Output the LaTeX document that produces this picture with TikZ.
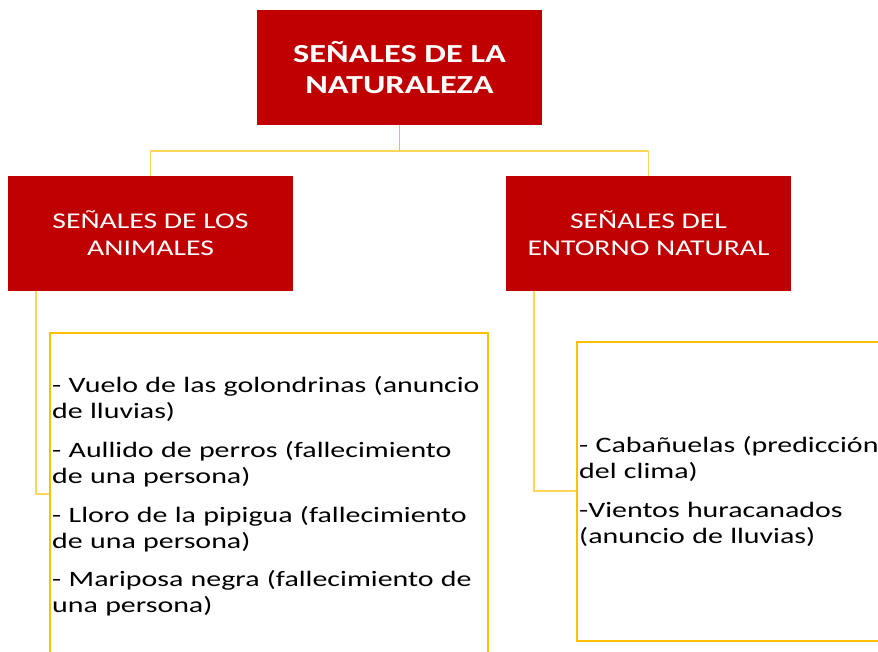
\documentclass[tikz,border=0pt]{standalone}
\usepackage{fontspec}
\setmainfont{Carlito}
\newfontfamily\widefont[FakeStretch=1.32]{Carlito}
\newfontfamily\bodyfont[FakeStretch=1.36]{Carlito}
\definecolor{hred}{HTML}{C00000}
\definecolor{gold}{HTML}{FFC000}
\definecolor{lgold}{HTML}{FFD55A}
\begin{document}
\begin{tikzpicture}[x=1pt,y=-1pt,
  headbox/.style={fill=hred,draw=none,minimum width=285pt,minimum height=115pt,inner sep=0pt,text=white,align=center},
  listbox/.style={draw=gold,line width=2pt,fill=none},
  conn/.style={draw=lgold,line width=1.6pt},
  item/.style={anchor=base west,inner sep=0pt,align=left,text width=440pt,font=\bodyfont\fontsize{22}{26.5}\selectfont}
]
\useasboundingbox (0,0) rectangle (878,652);
\clip (0,0) rectangle (878,652);
\node[headbox,font=\widefont\fontsize{26}{31}\selectfont\bfseries] (top) at (399.5,67.5) {SEÑALES DE LA\\NATURALEZA};
\node[headbox,font=\widefont\fontsize{22.5}{27}\selectfont] (lefthead) at (150.5,233.5) {SEÑALES DE LOS\\ANIMALES};
\node[headbox,font=\widefont\fontsize{22.5}{27}\selectfont] (righthead) at (648.5,233.5) {SEÑALES DEL\\ENTORNO NATURAL};
\coordinate (mid) at (399.5,151);
\draw[conn,draw=gold] (top.south) -- (mid);
\draw[conn] (mid) -| (lefthead.north);
\draw[conn] (mid) -| (righthead.north);
\node[listbox,anchor=north west,minimum width=438pt,minimum height=400pt,inner sep=0pt] (leftlist) at (49,332) {};
\node[listbox,anchor=north west,minimum width=400pt,minimum height=299pt,inner sep=0pt] (rightlist) at (576,341) {};
\coordinate (lj) at (49,494);
\coordinate (rj) at (576,491);
\draw[conn] ([xshift=28pt]lefthead.south west) |- (lj);
\draw[conn] ([xshift=28pt]righthead.south west) |- (rj);
\node[item] (a1) at (52,392) {- Vuelo de las golondrinas (anuncio\\de lluvias)};
\node[item] (a2) at (52,457) {- Aullido de perros (fallecimiento\\de una persona)};
\node[item] (a3) at (52,522) {- Lloro de la pipigua (fallecimiento\\de una persona)};
\node[item] (a4) at (52,586) {- Mariposa negra (fallecimiento de\\una persona)};
\node[item,text width=320pt] (b1) at (579,452) {- Cabañuelas (predicción\\del clima)};
\node[item,text width=320pt] (b2) at (579,517) {-Vientos huracanados\\(anuncio de lluvias)};
\end{tikzpicture}
\end{document}
